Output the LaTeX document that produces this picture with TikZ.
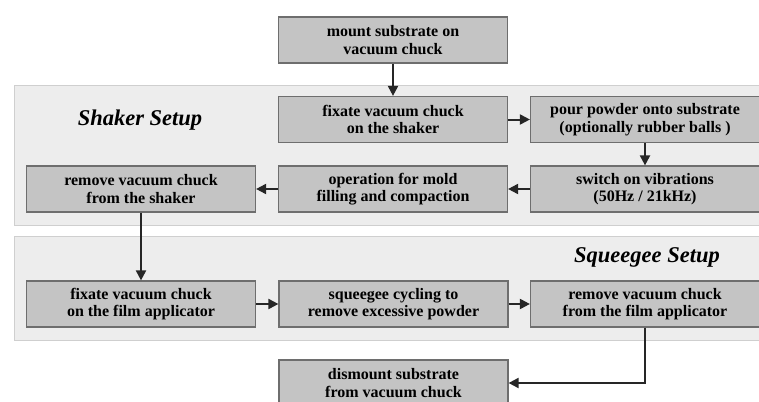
\documentclass[tikz,border=0pt]{standalone}
\usepackage{fontspec}
\setmainfont{Liberation Serif}
\usetikzlibrary{arrows.meta}
\definecolor{panelgray}{HTML}{EDEDED}
\definecolor{panelline}{HTML}{CFCFCF}
\definecolor{boxgray}{HTML}{C4C4C4}
\definecolor{boxline}{HTML}{6E6E6E}
\tikzset{
  stepbox/.style={draw=boxline, fill=boxgray, line width=1.2pt, minimum width=229pt,
    minimum height=46pt, align=center, inner sep=2pt,
    font=\bfseries\fontsize{16}{17.5}\selectfont},
  panel/.style={draw=panelline, fill=panelgray, line width=1pt},
  flow/.style={line width=2pt, draw=black!85, -{Triangle[length=10pt,width=10pt]}},
  title/.style={font=\bfseries\itshape\fontsize{22.5}{26}\selectfont}
}
\begin{document}
\begin{tikzpicture}[x=1pt,y=-1pt]
  \useasboundingbox (0,0) rectangle (759,401);
  \fill[white] (0,0) rectangle (759,401);
  % setup panels
  \draw[panel] (14,86) rectangle (775,225);
  \draw[panel] (14,236) rectangle (775,340);
  \node[title] (shaker) at (140,120) {Shaker Setup};
  \node[title] (squeegee) at (647,257) {Squeegee Setup};
  % process steps
  \node[stepbox] (mount) at (393,40) {mount substrate on\\vacuum chuck};
  \node[stepbox] (fixs) at (393,119.5) {fixate vacuum chuck\\on the shaker};
  \node[stepbox] (pour) at (645,119.5) {pour powder onto substrate\\(optionally rubber balls )};
  \node[stepbox] (switch) at (645,189) {switch on vibrations\\(50Hz / 21kHz)};
  \node[stepbox] (oper) at (393,189) {operation for mold\\filling and compaction};
  \node[stepbox] (rems) at (141,189) {remove vacuum chuck\\from the shaker};
  \node[stepbox] (fixf) at (141,304) {fixate vacuum chuck\\on the film applicator};
  \node[stepbox] (squee) at (393.5,304) {squeegee cycling to\\remove excessive powder};
  \node[stepbox] (remf) at (645,304) {remove vacuum chuck\\from the film applicator};
  \node[stepbox] (dism) at (393.5,383) {dismount substrate\\from vacuum chuck};
  % connectors
  \draw[flow] (mount) -- (fixs);
  \draw[flow] (fixs) -- (pour);
  \draw[flow] (pour) -- (switch);
  \draw[flow] (switch) -- (oper);
  \draw[flow] (oper) -- (rems);
  \draw[flow] (rems) -- (fixf);
  \draw[flow] (fixf) -- (squee);
  \draw[flow] (squee) -- (remf);
  \draw[flow] (remf) |- (dism);
\end{tikzpicture}
\end{document}
